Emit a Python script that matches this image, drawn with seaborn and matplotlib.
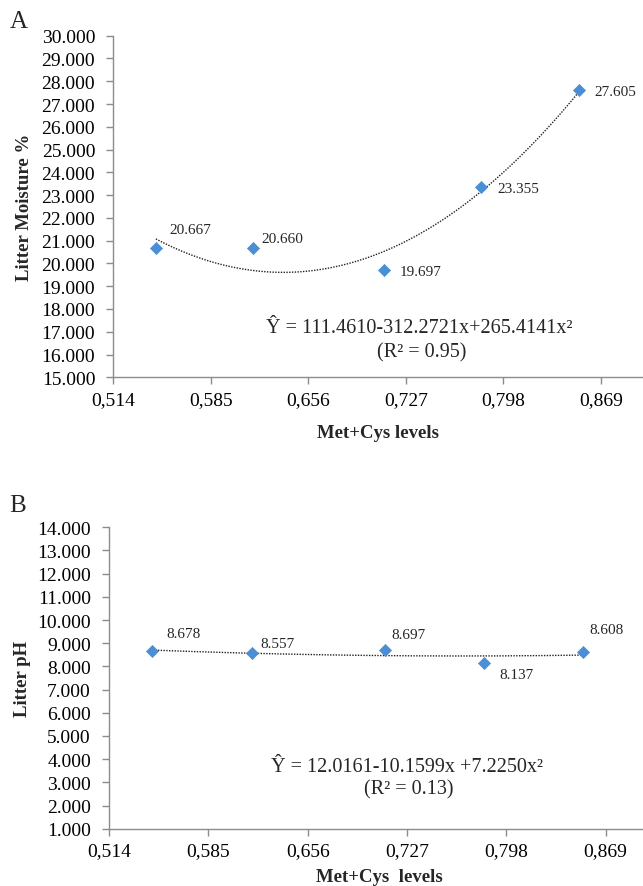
import numpy as np
import pandas as pd
import seaborn as sns
import matplotlib.pyplot as plt
from matplotlib.ticker import FixedLocator, FuncFormatter

# Met+Cys levels and measured values
met_cys = [0.545, 0.616, 0.711, 0.782, 0.853]
moisture = [20.667, 20.660, 19.697, 23.355, 27.605]
ph = [8.678, 8.557, 8.697, 8.137, 8.608]

x_ticks = [0.514, 0.585, 0.656, 0.727, 0.798, 0.869]
eq_a = "Ŷ = 111.4610-312.2721x+265.4141x²"
r2_a = "(R² = 0.95)"
eq_b = "Ŷ = 12.0161-10.1599x +7.2250x²"
r2_b = "(R² = 0.13)"

sns.set_style("white")
plt.rcParams['font.family'] = ['Liberation Serif', 'DejaVu Serif']

blue = "#4A8FD6"
gray = "#8C8C8C"

fig = plt.figure(figsize=(6.43, 8.87), dpi=100)
ax_a = fig.add_axes([0.1762, 0.5735, 0.8243, 0.3851])
ax_b = fig.add_axes([0.1695, 0.0646, 0.8398, 0.3398])


def draw_panel(ax, y, ylim, ylabel, xlabel, offsets, eq, r2, eq_pos, r2_pos, ylab_x, xlab_y):
    df = pd.DataFrame({"x": met_cys, "y": y})
    # quadratic trend line
    coef = np.polyfit(df["x"], df["y"], 2)
    xs = np.linspace(min(met_cys), max(met_cys), 200)
    fit = pd.DataFrame({"x": xs, "y": np.polyval(coef, xs)})
    sns.lineplot(data=fit, x="x", y="y", ax=ax, color="#222222",
                 linestyle=(0, (1, 1)), linewidth=1.0)
    sns.scatterplot(data=df, x="x", y="y", ax=ax, marker="D", s=38,
                    color=blue, edgecolor=blue, linewidth=0.5, zorder=3)
    for xv, yv, off in zip(met_cys, y, offsets):
        ax.annotate(f"{yv:.3f}", (xv, yv), xytext=off, textcoords="offset pixels",
                    ha="left", va="center", fontsize=11)

    ax.set_xlim(0.514, 0.9)
    ax.set_ylim(*ylim)
    ax.xaxis.set_major_locator(FixedLocator(x_ticks))
    ax.yaxis.set_major_locator(FixedLocator(np.arange(ylim[0], ylim[1] + 0.5, 1)))
    ax.xaxis.set_major_formatter(FuncFormatter(lambda v, p: f"{v:.3f}".replace(".", ",")))
    ax.yaxis.set_major_formatter(FuncFormatter(lambda v, p: f"{v:.3f}"))
    ax.tick_params(axis="both", direction="out", length=5, width=1, color=gray,
                   labelsize=14, labelcolor="black", bottom=True, left=True)
    ax.tick_params(axis="x", pad=5)
    ax.tick_params(axis="y", pad=8)
    sns.despine(ax=ax)
    for s in ["left", "bottom"]:
        ax.spines[s].set_color(gray)
        ax.spines[s].set_linewidth(1)
    ax.set_xlabel(xlabel, fontsize=13.5, fontweight="bold")
    ax.set_ylabel(ylabel, fontsize=13.5, fontweight="bold")
    ax.xaxis.set_label_coords(0.5, xlab_y)
    ax.yaxis.set_label_coords(ylab_x, 0.5)
    ax.text(*eq_pos, eq, transform=ax.transAxes, ha="center", va="center", fontsize=14.5)
    ax.text(*r2_pos, r2, transform=ax.transAxes, ha="center", va="center", fontsize=14.5)
    ax.patch.set_alpha(0)


draw_panel(ax_a, moisture, (15, 30), "Litter Moisture %", "Met+Cys levels",
           [(14, 19), (8, 10), (16, -1), (16, -1), (15.5, -1)],
           eq_a, r2_a, (0.577, 0.146), (0.582, 0.075), -0.152, -0.137)
draw_panel(ax_b, ph, (1, 14), "Litter pH", "Met+Cys  levels",
           [(14, 17.6), (9, 10), (6.6, 16), (15, -11.5), (6.6, 23)],
           eq_b, r2_b, (0.551, 0.206), (0.555, 0.131), -0.144, -0.130)

fig.text(10 / 643, 1 - 28.3 / 887, "A", fontsize=18, ha="left", va="baseline")
fig.text(9.3 / 643, 1 - 511.7 / 887, "B", fontsize=18, ha="left", va="baseline")

fig.savefig("out.png", dpi=100)
